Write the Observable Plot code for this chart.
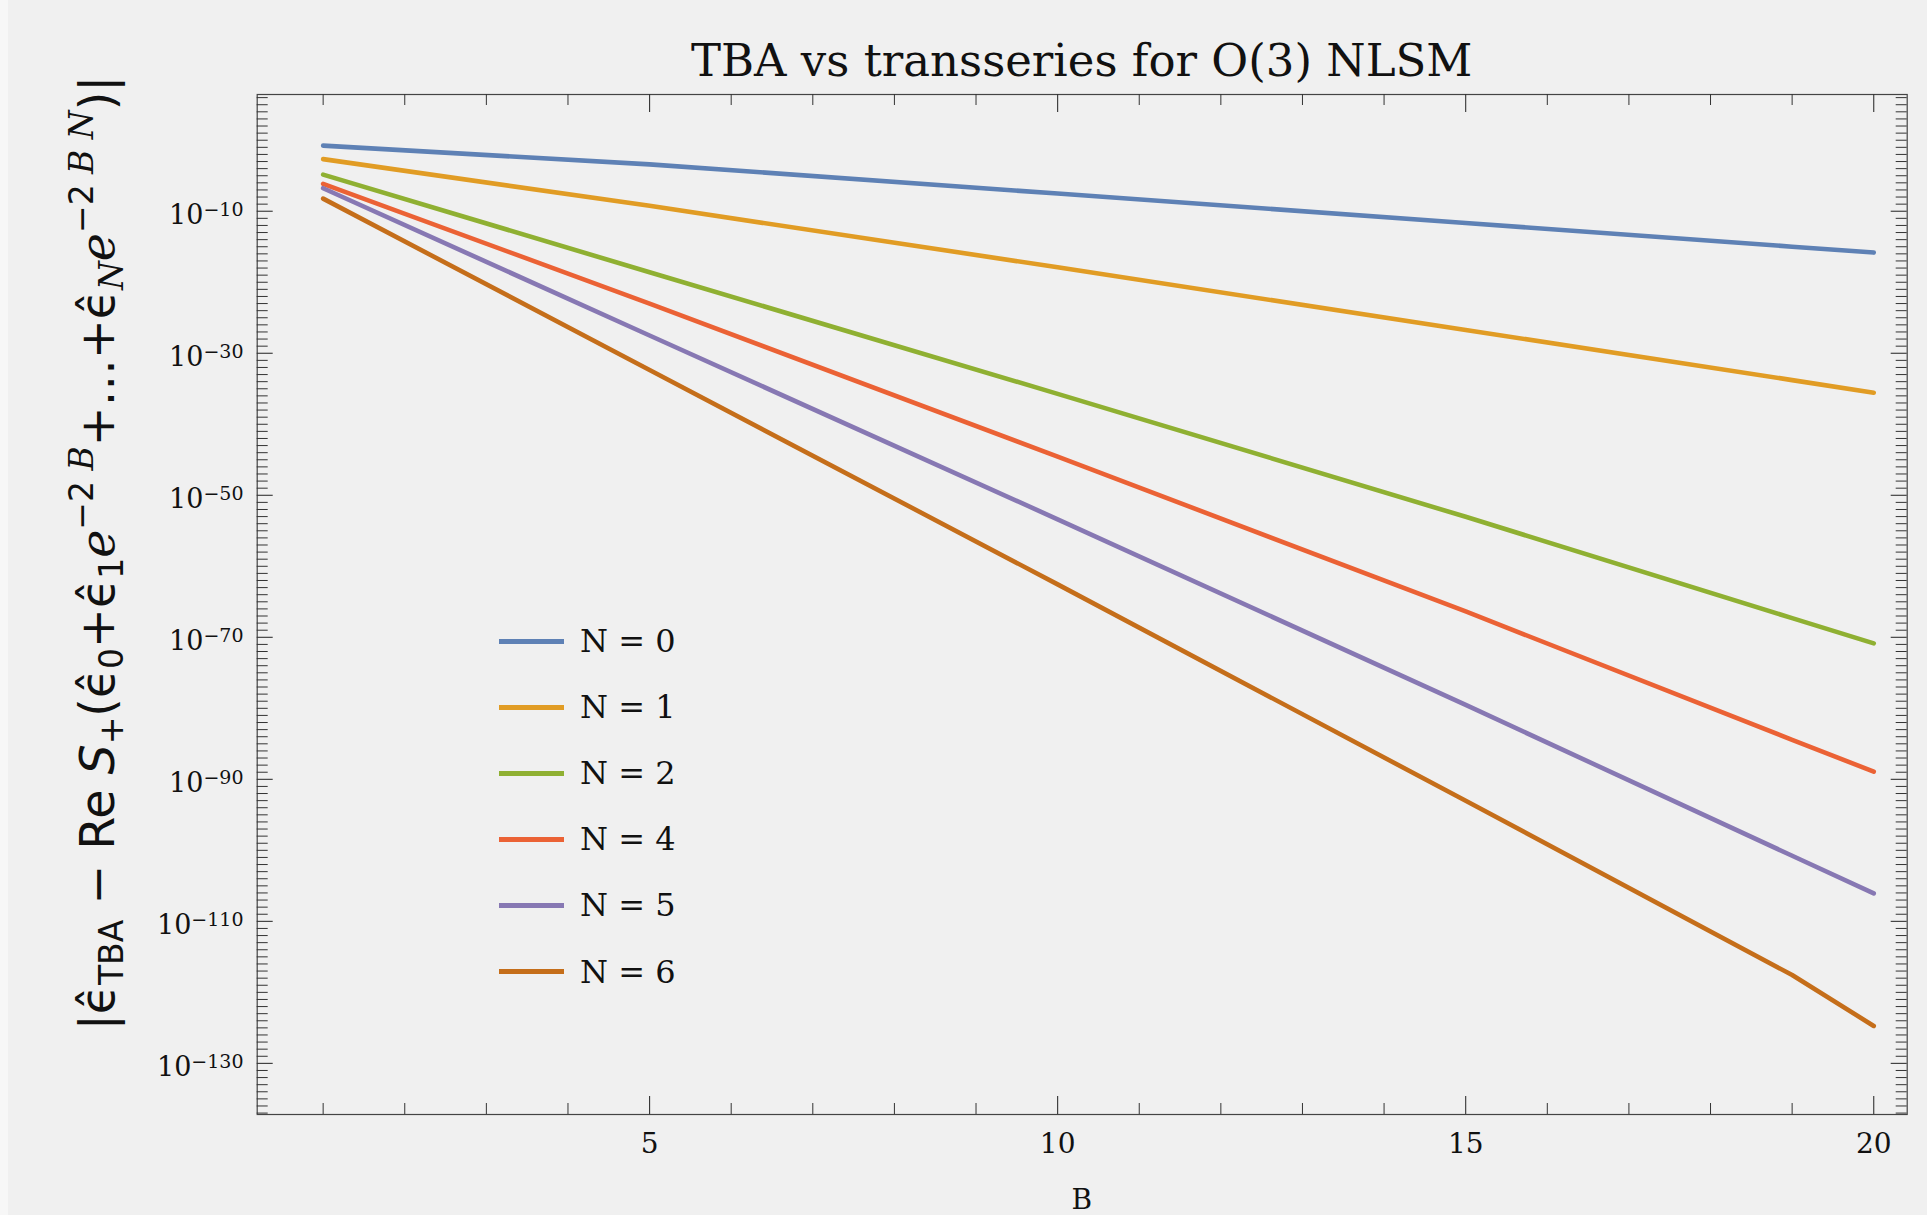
<!DOCTYPE html>
<html><head><meta charset="utf-8">
<script src="https://cdn.jsdelivr.net/npm/d3@7"></script>
<script src="https://cdn.jsdelivr.net/npm/@observablehq/plot@0.6"></script>
<style>
html,body{margin:0;padding:0;background:#f7f7f7;}
#wrap{position:absolute;left:8px;top:0;width:1919px;height:1215px;background:#f0f0f0;overflow:hidden;}
#legend{position:absolute;left:491px;top:608px;font-family:"DejaVu Serif",serif;font-size:32px;color:#111;}
.row{display:flex;align-items:center;height:66.1px;}
.sw{width:65px;height:5px;margin-right:16px;}
</style></head><body><div id="wrap"><div id="legend"></div></div>
<script>
// ---- data (log10 of the plotted quantity) ----
const Bvals = [1, 5, 10, 15, 19, 20];
const seriesNames = ["N = 0", "N = 1", "N = 2", "N = 4", "N = 5", "N = 6"];
const seriesColors = ["#5e81b5", "#e19c24", "#8fb032", "#eb6235", "#8778b3", "#c56e1a"];
const logN0 = [-0.76, -3.40, -7.51, -11.66, -14.99, -15.82];
const logN1 = [-2.66, -9.24, -17.89, -26.72, -33.78, -35.55];
const logN2 = [-4.84, -18.59, -35.72, -53.03, -67.30, -70.86];
const logN4 = [-6.14, -23.00, -44.55, -66.36, -84.43, -88.92];
const logN5 = [-6.76, -27.50, -53.38, -79.52, -100.76, -106.07];
const logN6 = [-8.22, -32.35, -62.55, -93.02, -117.56, -124.73];
const xMajorTicks = [5, 10, 15, 20];
const xMinorTicks = [1, 2, 3, 4, 6, 7, 8, 9, 11, 12, 13, 14, 16, 17, 18, 19];
const yMajorExp = [-10, -30, -50, -70, -90, -110, -130];
const titleText = "TBA vs transseries for O(3) NLSM";
const xLabel = "B";

const allLogs = [logN0, logN1, logN2, logN4, logN5, logN6];
const rows = [];
allLogs.forEach((arr, i) => arr.forEach((v, j) => rows.push({series: seriesNames[i], B: Bvals[j], value: Math.pow(10, v)})));
const yMinorExp = d3.range(-137, 7).filter(e => !yMajorExp.includes(e));

const W = 1919, H = 1215;
const mL = 248.7, mR = 20.3, mT = 94, mB = 101;
const FW = W - mL - mR, FH = H - mT - mB;
const tickCol = "#333";

const chart = Plot.plot({
  width: W, height: H,
  marginLeft: mL, marginRight: mR, marginTop: mT, marginBottom: mB,
  style: {background: "transparent", fontFamily: "DejaVu Serif, serif", fontSize: "27px", color: "#111"},
  x: {domain: [0.192, 20.41], axis: null},
  y: {type: "log", domain: [Math.pow(10, -137.2), Math.pow(10, 6.44)], axis: null},
  color: {domain: seriesNames, range: seriesColors},
  marks: [
    Plot.frame({stroke: "#444", strokeWidth: 1.2}),
    Plot.tickX(xMinorTicks, {x: d => d, insetTop: FH - 11, stroke: tickCol, strokeWidth: 1}),
    Plot.tickX(xMajorTicks, {x: d => d, insetTop: FH - 18, stroke: tickCol, strokeWidth: 1.1}),
    Plot.tickX(xMinorTicks, {x: d => d, insetBottom: FH - 11, stroke: tickCol, strokeWidth: 1}),
    Plot.tickX(xMajorTicks, {x: d => d, insetBottom: FH - 18, stroke: tickCol, strokeWidth: 1.1}),
    Plot.tickY(yMinorExp, {y: e => Math.pow(10, e), insetRight: FW - 11, stroke: tickCol, strokeWidth: 1}),
    Plot.tickY(yMajorExp, {y: e => Math.pow(10, e), insetRight: FW - 16, stroke: tickCol, strokeWidth: 1.1}),
    Plot.tickY(yMinorExp, {y: e => Math.pow(10, e), insetLeft: FW - 11, stroke: tickCol, strokeWidth: 1}),
    Plot.tickY(yMajorExp, {y: e => Math.pow(10, e), insetLeft: FW - 16, stroke: tickCol, strokeWidth: 1.1}),
    Plot.line(rows, {x: "B", y: "value", z: "series", stroke: "series", strokeWidth: 4.6, strokeLinejoin: "round"}),
    Plot.axisX({ticks: xMajorTicks, tickSize: 0, tickPadding: 19, tickFormat: d => String(d), label: null, fontSize: 28, fill: "#111"}),
    Plot.axisY({ticks: yMajorExp.map(e => Math.pow(10, e)), tickSize: 0, tickPadding: 13.7, label: null,
      tickFormat: d => "10^" + Math.round(Math.log10(d)), fontSize: 27, fill: "#111"})
  ]
});

document.getElementById("wrap").appendChild(chart);
const svg = d3.select(chart);

svg.selectAll('g[aria-label="y-axis tick label"] text').each(function() {
  const t = this.textContent;
  const m = t.match(/^10\^(-?\d+)$/);
  if (!m) return;
  const el = d3.select(this);
  el.text(null).attr("y", "0.48em");
  el.append("tspan").text("10");
  el.append("tspan").attr("dy", "-0.42em").style("font-size", "19px").text(m[1].replace("-", "\u2212"));
});

svg.append("text").attr("x", mL + FW / 2).attr("y", 76).attr("text-anchor", "middle")
  .style("font-family", "DejaVu Serif, serif").style("font-size", "45px").attr("fill", "#111").text(titleText);

svg.append("text").attr("x", mL + FW / 2).attr("y", 1209).attr("text-anchor", "middle")
  .style("font-family", "DejaVu Serif, serif").style("font-size", "28px").attr("fill", "#111").text(xLabel);

const eh = "\u03F5\u0302";
const yParts = [
  {t: "|"}, {t: eh}, {t: "TBA", sub: 1}, {t: " \u2212 Re "}, {t: "S", it: 1}, {t: "+", sub: 1},
  {t: "(" + eh}, {t: "0", sub: 1}, {t: "+" + eh}, {t: "1", sub: 1}, {t: "\u212F", it: 1},
  {t: "\u22122 ", sup: 1}, {t: "B", sup: 1, it: 1, serif: 1},
  {t: "+\u2026+" + eh}, {t: "N", sub: 1, it: 1, serif: 1}, {t: "\u212F", it: 1},
  {t: "\u22122 ", sup: 1}, {t: "B N", sup: 1, it: 1, serif: 1}, {t: ")|"}
];
const yl = svg.append("text").attr("transform", `translate(106,553) rotate(-90)`).attr("text-anchor", "middle")
  .style("font-family", "DejaVu Sans, sans-serif").style("font-size", "47.5px").attr("fill", "#111");
let shift = 0;
yParts.forEach(p => {
  const target = p.sub ? 9 : p.sup ? -21 : 0;
  const ts = yl.append("tspan").text(p.t);
  if (target !== shift) { ts.attr("dy", target - shift); shift = target; }
  if (p.sub || p.sup) ts.style("font-size", "33px");
  if (p.it) ts.style("font-style", "italic");
  if (p.serif) ts.style("font-family", "DejaVu Serif, serif");
});

const leg = d3.select("#legend");
seriesNames.forEach((n, i) => {
  const r = leg.append("div").attr("class", "row");
  r.append("div").attr("class", "sw").style("background", seriesColors[i]);
  r.append("span").text(n);
});
</script></body></html>
